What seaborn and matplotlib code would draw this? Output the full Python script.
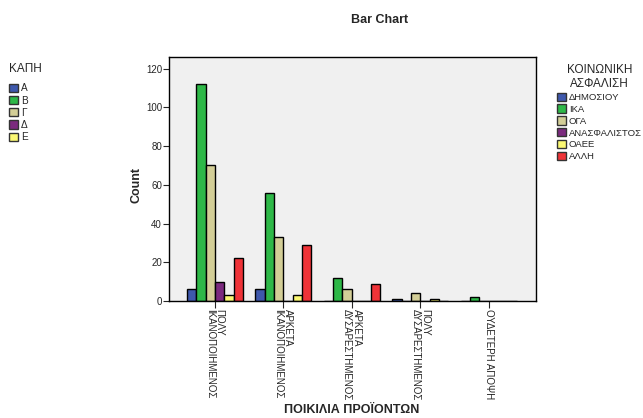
import pandas as pd
import matplotlib.pyplot as plt
import seaborn as sns
from matplotlib.patches import Patch

sns.set_style("white")
plt.rcParams['font.family'] = ['Liberation Sans', 'DejaVu Sans']

groups = ["ΠΟΛΥ\nΙΚΑΝΟΠΟΙΗΜΕΝΟΣ", "ΑΡΚΕΤΑ\nΙΚΑΝΟΠΟΙΗΜΕΝΟΣ", "ΑΡΚΕΤΑ\nΔΥΣΑΡΕΣΤΗΜΕΝΟΣ",
          "ΠΟΛΥ\nΔΥΣΑΡΕΣΤΗΜΕΝΟΣ", "ΟΥΔΕΤΕΡΗ ΑΠΟΨΗ"]
insurance = ["ΔΗΜΟΣΙΟΥ", "ΙΚΑ", "ΟΓΑ", "ΑΝΑΣΦΑΛΙΣΤΟΣ", "ΟΑΕΕ", "ΑΛΛΗ"]
dimosiou = [6, 6, 0, 1, 0]
ika = [112, 56, 12, 0, 2]
oga = [70, 33, 6, 4, 0]
anasf = [10, 0, 0, 0, 0]
oaee = [3, 3, 0, 1, 0]
alli = [22, 29, 9, 0, 0]
kapi = ["Α", "Β", "Γ", "Δ", "Ε"]

colors = ["#3E58AC", "#2EB848", "#D3CE97", "#7B2A7E", "#FBF873", "#EF3338"]

rows = []
for name, vals in zip(insurance, [dimosiou, ika, oga, anasf, oaee, alli]):
    for g, v in zip(groups, vals):
        rows.append({"group": g, "insurance": name, "count": v})
df = pd.DataFrame(rows)

fig = plt.figure(figsize=(6.43, 4.18), dpi=100)
ax = fig.add_axes([169/643, 1-301/418, (536-169)/643, (301-57)/418])
ax.set_facecolor("#F0F0F0")

sns.barplot(data=df, x="group", y="count", hue="insurance", order=groups,
            hue_order=insurance, palette=colors, saturation=1, width=0.82,
            edgecolor="black", linewidth=1.0, legend=False, ax=ax)

ax.set_xlim(-0.67, 4.69)
ax.set_ylim(0, 126)
ax.set_yticks([0, 20, 40, 60, 80, 100, 120])
for s in ax.spines.values():
    s.set_color("black")
    s.set_linewidth(1.0)
ax.tick_params(axis="y", direction="out", length=4, width=0.8, labelsize=7, pad=1, left=True)
ax.tick_params(axis="x", direction="out", length=5, width=0.8, labelsize=7, pad=1, bottom=True)
for lab in ax.get_xticklabels():
    lab.set_rotation(-90)
    lab.set_ha("center")
    lab.set_va("top")
    lab.set_multialignment("left")
    lab.set_linespacing(0.95)

ax.set_xlabel("")
ax.set_ylabel("")
fig.text(352/643, 1-410/418, "ΠΟΙΚΙΛΙΑ ΠΡΟΪΟΝΤΩΝ", ha="center", va="center",
         fontsize=9, fontweight="bold")
fig.text(136/643, 1-185/418, "Count", rotation=90, ha="center", va="center",
         fontsize=9, fontweight="bold")
fig.text(380/643, 1-20/418, "Bar Chart", ha="center", va="center",
         fontsize=9, fontweight="bold")

h_ins = [Patch(facecolor=c, edgecolor="#333333", linewidth=1) for c in colors]
leg1 = fig.legend(h_ins, insurance, title="ΚΟΙΝΩΝΙΚΗ\nΑΣΦΑΛΙΣΗ", loc="upper left",
                  bbox_to_anchor=(557/643, 1-64/418), frameon=False, fontsize=6.8,
                  title_fontsize=8.5, handlelength=1.0, handleheight=1.0,
                  handletextpad=0.25, labelspacing=0.25, borderaxespad=0,
                  borderpad=0)
leg1.get_title().set_multialignment("center")
leg1._legend_box.sep = 2

h_kapi = [Patch(facecolor=c, edgecolor="#333333", linewidth=1) for c in colors[:5]]
leg2 = fig.legend(h_kapi, kapi, title="ΚΑΠΗ", loc="upper left",
                  bbox_to_anchor=(9/643, 1-63/418), frameon=False, fontsize=7.2,
                  title_fontsize=8.5, handlelength=0.9, handleheight=0.9,
                  handletextpad=0.3, labelspacing=0.22, borderaxespad=0,
                  borderpad=0)
leg2._legend_box.align = "left"
leg2._legend_box.sep = 6

fig.savefig("out.png", dpi=100)
